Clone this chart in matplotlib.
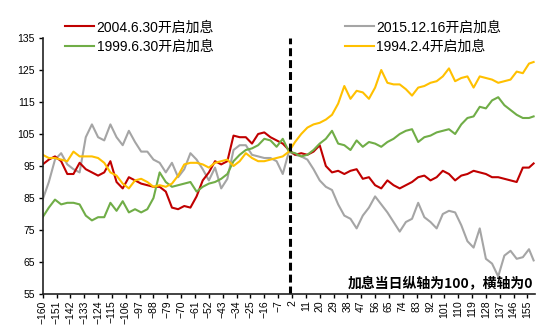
import numpy as np
import matplotlib
matplotlib.use("Agg")
import matplotlib.pyplot as plt

plt.rcParams['font.family'] = ['Liberation Sans', 'Noto Sans CJK SC', 'DejaVu Sans']

# 交易日（加息日为0）
days = list(range(-160, 157, 4)) + [159]

# 各轮加息前后指数走势，加息当日=100
red_2004 = [95.5, 97, 98, 96.5, 92.5, 92.5, 96, 94, 93, 92, 93, 96.5, 90, 88, 91.5, 90.5,
            89.5, 89, 88.5, 88.5, 87, 82, 81.5, 82.5, 82, 85.5, 90.5, 93, 96.5, 95.5, 96.5,
            104.5, 104, 104, 102, 105, 105.5, 104, 103, 102, 100, 98.5, 99, 98.5, 99.5,
            101.5, 95, 93, 93.5, 92.5, 93.5, 94, 91, 91.5, 89, 88, 90.5, 89, 88, 89, 90,
            91.5, 92, 90.5, 91.5, 93.5, 92.5, 90.5, 92, 92.5, 93.5, 93, 92.5, 91.5, 91.5,
            91, 90.5, 90, 94.5, 94.5, 95.8]
grey_2015 = [84.5, 90, 97, 99, 95.5, 94, 93, 104, 108, 104, 103, 108, 104, 101.5, 106, 102.5,
             99.5, 99.5, 97, 96, 93, 96, 91.5, 94, 99, 97, 94, 90.5, 94.5, 88, 91, 100,
             101.5, 101.5, 98.5, 98, 97.5, 97.5, 96.5, 92.5, 99.5, 98.5, 98, 97, 94, 90.5,
             88.5, 87.5, 83, 79.5, 78.5, 75.5, 79.5, 82, 85.5, 83, 80.5, 77.5, 74.5, 77.5,
             78.5, 83.5, 79, 77.5, 75.5, 80, 81, 80.5, 76.5, 71.5, 69.5, 75.5, 66, 64.5,
             60.5, 67, 68.5, 66, 66.5, 69, 65.5]
green_1999 = [79, 82, 84.5, 83, 83.5, 83.5, 83, 79.5, 78, 79, 79, 83.5, 81, 84, 80.5, 81.5,
              80.5, 81.5, 85, 93, 90, 88.5, 89, 89.5, 90, 87, 88.5, 89.5, 90, 91, 92.5, 96.5,
              98.5, 100, 100.5, 101.5, 103.5, 103, 101, 103.5, 99.5, 99, 98, 98.5, 100, 102,
              103.5, 106, 102, 101.5, 100, 103, 101, 102.5, 102, 101, 102.5, 103.5, 105, 106,
              106.5, 102.5, 104, 104.5, 105.5, 106, 106.5, 105, 108, 110, 110.5, 113.5, 113,
              115.5, 116.5, 114, 112.5, 111, 110, 110, 110.5]
yellow_1994 = [98.5, 97.5, 97.5, 97, 96.5, 99.5, 98, 98, 98, 97.5, 96, 93, 92, 89.5, 88, 90.5,
               91, 90, 88.5, 89, 88.5, 89.5, 92, 95.5, 96, 96, 95.5, 94.5, 96, 96.5, 97, 95,
               96.5, 99, 97.5, 96.5, 96.5, 97, 97.5, 98, 99.5, 102.5, 105, 107, 108, 108.5,
               109.5, 111, 114.5, 120, 116, 118.5, 118, 116, 119.5, 125, 121, 120.5, 120.5,
               119, 117, 119.5, 120, 121, 121.5, 123, 125.5, 121.5, 122.5, 123, 119.5, 123,
               122.5, 122, 121, 121.5, 122, 124.5, 124, 127, 127.5]

labels = ['2004.6.30开启加息', '1999.6.30开启加息', '2015.12.16开启加息', '1994.2.4开启加息']
colors = ['#C00000', '#70AD47', '#A5A5A5', '#FFC000']
series = [red_2004, green_1999, grey_2015, yellow_1994]

fig = plt.figure(figsize=(5.5, 3.27), dpi=100)
ax = fig.add_axes([0.0776, 0.1009, 0.8954, 0.7829])

lines = {}
for i in [2, 0, 1, 3]:
    ln, = ax.plot(days, series[i], color=colors[i], lw=1.5, label=labels[i])
    lines[i] = ln

ax.axvline(1, color='black', lw=2.2, linestyle=(0, (2.6, 1.3)))

ax.set_xlim(-160, 160)
ax.set_ylim(55, 135)
ax.set_yticks(np.arange(55, 136, 10))
ax.set_xticks(np.arange(-160, 160, 9))
ax.tick_params(axis='x', labelrotation=90, labelsize=7.5, length=3, width=1, pad=1.5)
ax.tick_params(axis='y', labelsize=7.5, length=3, width=1, pad=2.5)

for s in ['top', 'right']:
    ax.spines[s].set_visible(False)
for s in ['left', 'bottom']:
    ax.spines[s].set_linewidth(1.2)
    ax.spines[s].set_color('#222222')

fig.legend([lines[i] for i in range(4)], labels, ncol=2, loc='upper left',
           bbox_to_anchor=(0.096, 0.976), frameon=False, fontsize=10,
           handlelength=2.1, handletextpad=0.15, columnspacing=9.45, labelspacing=0.42)

ax.text(159, 58, '加息当日纵轴为100，横轴为0', ha='right', va='center',
        fontsize=10, fontweight='bold', family=['Noto Sans CJK SC', 'DejaVu Sans'])

fig.savefig('out.png', dpi=100)
